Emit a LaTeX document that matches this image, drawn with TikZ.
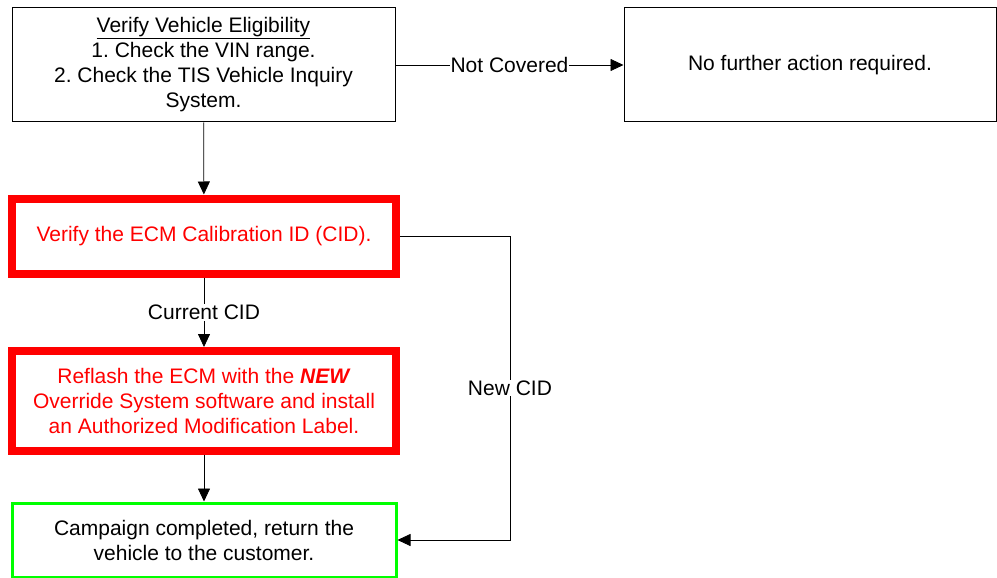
\documentclass[tikz,border=0pt]{standalone}
\usepackage{fontspec}
\setmainfont{Liberation Sans}
\usetikzlibrary{arrows.meta}
\frenchspacing
\begin{document}
\begin{tikzpicture}[x=1pt,y=-1pt,
    box/.style={draw, line width=1pt, align=center, inner sep=2pt,
      font=\fontsize{21}{25}\selectfont},
    redbox/.style={box, draw=red, line width=8pt, text=red},
    greenbox/.style={box, draw=green, line width=3pt},
    arr/.style={-{Triangle[length=13pt,width=12pt]}, line width=0.8pt},
    lbl/.style={fill=white, inner sep=1pt, font=\fontsize{21}{25}\selectfont}]
  \useasboundingbox (0,0) rectangle (997,578);

  % boxes
  \node[box, minimum width=383pt, minimum height=114pt] (elig) at (203.5,65)
    {\underline{Verify Vehicle Eligibility}\\1. Check the VIN range.\\2. Check the TIS Vehicle Inquiry\\System.};
  \node[box, minimum width=372pt, minimum height=114pt] (none) at (810,65)
    {No further action required.};
  \node[redbox, minimum width=384pt, minimum height=75pt] (cid) at (204,236)
    {Verify the ECM Calibration ID (CID).};
  \node[redbox, minimum width=384pt, minimum height=100pt] (flash) at (204,401)
    {Reflash the ECM with the \textbf{\textit{NEW}}\\Override System software and install\\an Authorized Modification Label.};
  \node[greenbox, minimum width=384pt, minimum height=74pt] (done) at (204,540)
    {Campaign completed, return the\\vehicle to the customer.};

  \coordinate (turn) at (510,0);

  % connectors
  \draw[arr] (elig) -- node[lbl] {Not Covered} (none);
  \draw[arr] (elig) -- (cid);
  \draw[arr] (cid) -- node[lbl] {Current CID} (flash);
  \draw[arr] (flash) -- (done);
  \draw[arr] (cid.east) -- (cid.east -| turn) -- node[lbl] {New CID} (done.east -| turn) -- (done.east);
\end{tikzpicture}
\end{document}
